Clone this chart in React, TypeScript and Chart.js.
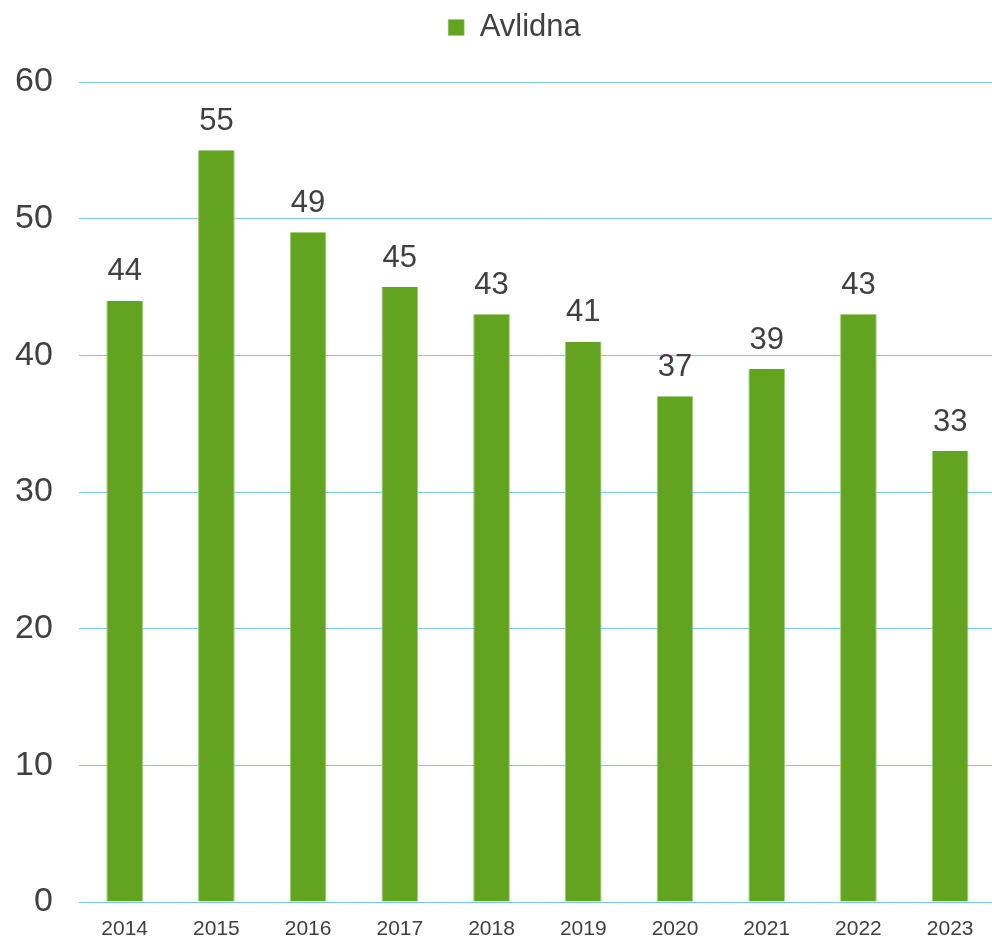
import React, { useEffect, useRef } from "react";
import { Chart, registerables } from "chart.js";

Chart.register(...registerables);

const years = ["2014", "2015", "2016", "2017", "2018", "2019", "2020", "2021", "2022", "2023"];
const avlidna = [44, 55, 49, 45, 43, 41, 37, 39, 43, 33];
const seriesLabel = "Avlidna";

const FONT = "'Liberation Sans', Arial, sans-serif";
const TEXT = "#404040";
const BAR = "#62a420";
const BAR_EDGE = "#9dcc76";
const GRID = "#78c5f6";

const valueLabels = {
  id: "valueLabels",
  afterDatasetsDraw(chart: any) {
    const ctx = chart.ctx;
    const meta = chart.getDatasetMeta(0);
    ctx.save();
    ctx.font = `31px ${FONT}`;
    ctx.fillStyle = TEXT;
    ctx.textAlign = "center";
    ctx.textBaseline = "middle";
    meta.data.forEach((el: any, i: number) => {
      const v = chart.data.datasets[0].data[i];
      ctx.fillText(String(v), el.x, el.y - 29);
    });
    ctx.restore();
  },
};

const legendSpacer = {
  id: "legendSpacer",
  beforeInit(chart: any) {
    const lg = chart.legend;
    if (!lg) return;
    const orig = lg.fit;
    lg.fit = function () {
      orig.call(this);
      this.height += 29;
    };
  },
  afterLayout(chart: any) {
    const lg = chart.legend;
    if (!lg) return;
    lg.left += 22;
    lg.right += 22;
  },
};

export default function App() {
  const ref = useRef<HTMLCanvasElement | null>(null);
  useEffect(() => {
    if (!ref.current) return;
    const chart = new Chart(ref.current, {
      type: "bar",
      data: {
        labels: years,
        datasets: [
          {
            label: seriesLabel,
            data: avlidna,
            backgroundColor: BAR,
            borderColor: BAR_EDGE,
            borderWidth: { left: 1, right: 1, top: 0, bottom: 0 },
            borderSkipped: false,
            barPercentage: 0.4,
            categoryPercentage: 1,
          },
        ],
      },
      options: {
        responsive: false,
        animation: false,
        layout: { padding: { left: -11, right: 0, top: 4, bottom: 0 } },
        plugins: {
          legend: {
            display: true,
            position: "top",
            labels: {
              font: { family: FONT, size: 31 },
              color: TEXT,
              boxWidth: 16,
              boxHeight: 16,
              padding: 8,
            },
          },
          tooltip: { enabled: false },
        },
        scales: {
          x: {
            grid: { display: false, drawTicks: false },
            border: { display: false },
            ticks: {
              font: { family: FONT, size: 21 },
              color: TEXT,
              padding: 15,
              maxRotation: 0,
            },
            afterFit(scale: any) {
              scale.height = 35;
            },
          },
          y: {
            min: 0,
            max: 60,
            grid: { color: GRID, lineWidth: 1, drawTicks: false },
            border: { display: false },
            ticks: {
              stepSize: 10,
              font: { family: FONT, size: 34 },
              color: TEXT,
              padding: 26,
            },
            afterFit(scale: any) {
              scale.paddingTop = 0;
              scale.paddingBottom = 0;
            },
          },
        },
      },
      plugins: [valueLabels, legendSpacer],
    });
    return () => chart.destroy();
  }, []);
  return (
    <div style={{ position: "fixed", left: 0, top: 0, width: 992, height: 937, overflow: "hidden", background: "#fff" }}>
      <canvas ref={ref} width={996} height={937} style={{ display: "block", width: 996, height: 937 }} />
    </div>
  );
}
